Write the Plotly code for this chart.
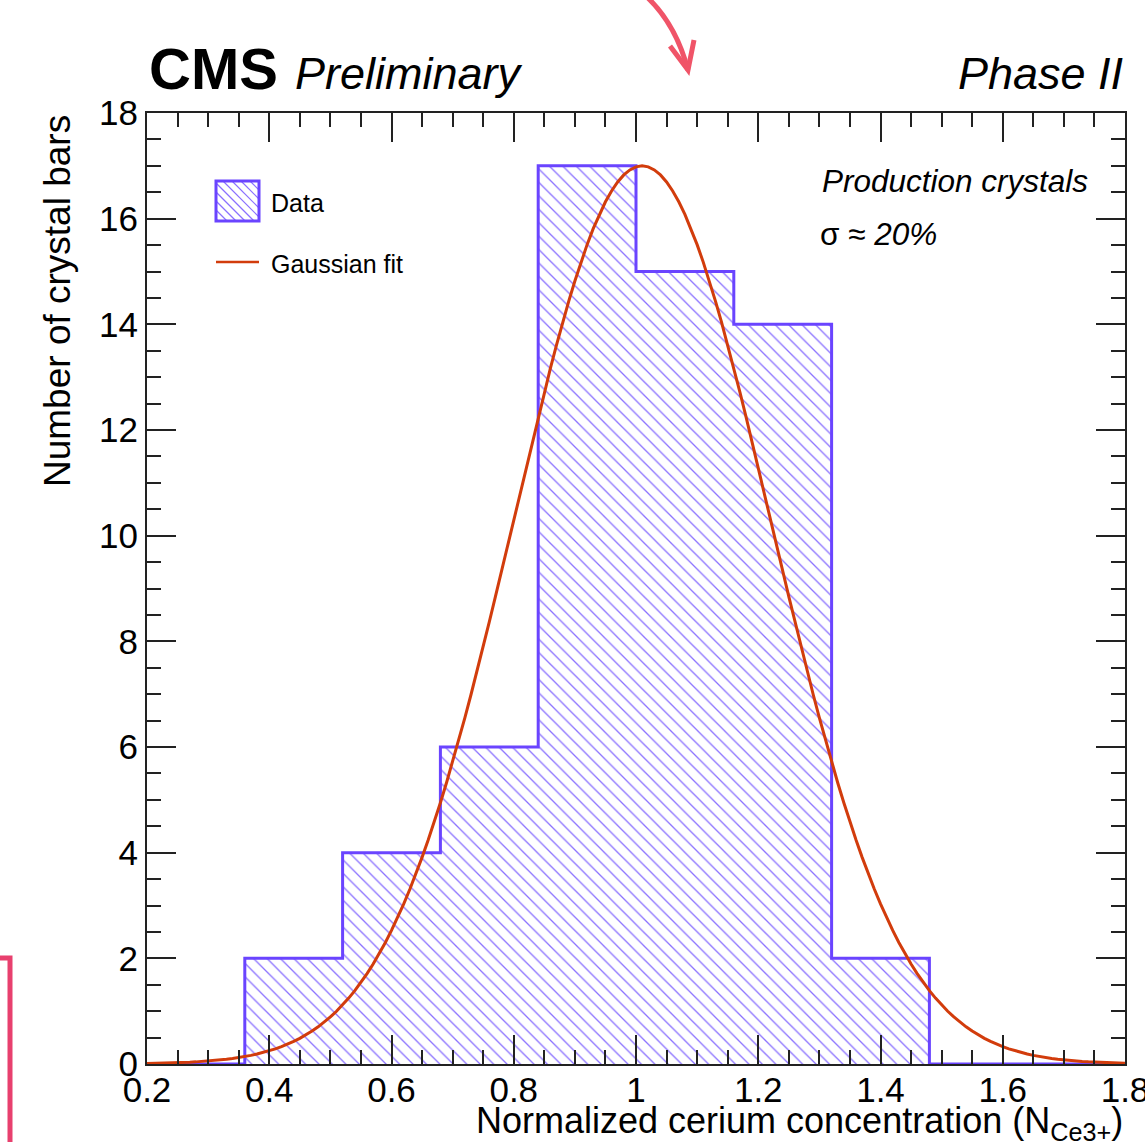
import numpy as np
import plotly.graph_objects as go

# ---------------- data ----------------
bin_edges = [0.20, 0.36, 0.52, 0.68, 0.84, 1.00, 1.16, 1.32, 1.48, 1.64, 1.80]
bin_counts = [0, 2, 4, 6, 17, 15, 14, 2, 0, 0]
fit_amplitude = 17.0
fit_mean = 1.01
fit_sigma = 0.21
fit_range = [0.2, 1.8]

x_range = [0.2, 1.8]
y_range = [0, 18]

# ---------------- layout geometry ----------------
W, H = 1145, 1142
L, R, T, B = 147, 20, 113, 78
PW = W - L - R
PH = H - T - B


def px(xp):
    return (xp - L) / PW


def py(yp):
    return (H - B - yp) / PH


FONT = "Liberation Sans"
HIST_COL = "#6a44ff"
HATCH_COL = "#8a70ff"
FIT_COL = "#d23c0c"

centers = [(a + b) / 2 for a, b in zip(bin_edges[:-1], bin_edges[1:])]
widths = [b - a for a, b in zip(bin_edges[:-1], bin_edges[1:])]

fig = go.Figure()

fig.add_trace(go.Bar(
    x=centers, y=bin_counts, width=widths,
    marker=dict(color="white", line=dict(width=0),
                pattern=dict(shape="\\", fgcolor=HATCH_COL, bgcolor="white",
                             size=9.5, solidity=0.14, fillmode="replace")),
    showlegend=False, hoverinfo="skip"))

fig.add_trace(go.Scatter(
    x=bin_edges, y=bin_counts + [bin_counts[-1]], mode="lines",
    line=dict(shape="hv", color=HIST_COL, width=3),
    showlegend=False, hoverinfo="skip"))

xf = np.linspace(fit_range[0], fit_range[1], 161)
yf = fit_amplitude * np.exp(-0.5 * ((xf - fit_mean) / fit_sigma) ** 2)
fig.add_trace(go.Scatter(x=xf, y=yf, mode="lines",
                         line=dict(color=FIT_COL, width=3),
                         showlegend=False, hoverinfo="skip"))

axis_common = dict(
    showline=True, linewidth=2, linecolor="#222222", mirror="allticks",
    ticks="inside", tickcolor="#222222", tickwidth=1.5,
    showgrid=False, zeroline=False, ticklabeloverflow="allow", automargin=False,
    tickfont=dict(family=FONT, size=35, color="black"),
)

fig.update_xaxes(range=x_range, tick0=0.2, dtick=0.2, ticklen=29,
                 ticklabelstandoff=-6,
                 minor=dict(dtick=0.05, ticklen=14, ticks="inside",
                            tickcolor="#222222", tickwidth=1.5, showgrid=False),
                 **axis_common)
fig.update_yaxes(range=y_range, tick0=0, dtick=2, ticklen=29,
                 minor=dict(dtick=0.5, ticklen=14, ticks="inside",
                            tickcolor="#222222", tickwidth=1.5, showgrid=False),
                 **axis_common)

ann = []
ann.append(dict(text="<b>CMS</b>", x=px(147), y=py(68), xanchor="left", yanchor="middle",
                font=dict(family=FONT, size=58, color="black")))
ann.append(dict(text="<i>Preliminary</i>", x=px(293), y=py(73), xanchor="left", yanchor="middle",
                font=dict(family=FONT, size=45, color="black")))
ann.append(dict(text="<i>Phase II</i>", x=px(1125), y=py(73), xanchor="right", yanchor="middle",
                font=dict(family=FONT, size=45, color="black")))
ann.append(dict(text="Number of crystal bars", x=px(57), y=py(113), xanchor="center", yanchor="top",
                textangle=-90, font=dict(family=FONT, size=37, color="black")))
ann.append(dict(text="Normalized cerium concentration (N<sub>Ce3+</sub>)", x=px(1125), y=py(1123),
                xanchor="right", yanchor="middle", font=dict(family=FONT, size=36, color="black")))
ann.append(dict(text="Data", x=px(269), y=py(203), xanchor="left", yanchor="middle",
                font=dict(family=FONT, size=25, color="black")))
ann.append(dict(text="Gaussian fit", x=px(269), y=py(264), xanchor="left", yanchor="middle",
                font=dict(family=FONT, size=25, color="black")))
ann.append(dict(text="<i>Production crystals</i>", x=px(820), y=py(181), xanchor="left", yanchor="middle",
                font=dict(family=FONT, size=31.5, color="black")))
ann.append(dict(text="σ ≈ <i>20%</i>", x=px(818), y=py(234), xanchor="left", yanchor="middle",
                font=dict(family=FONT, size=31.5, color="black")))
for a in ann:
    a.update(xref="paper", yref="paper", showarrow=False)

shapes = []
# legend box with hatch
bx0, bx1, by0, by1 = 216, 259, 181, 221
step = 9
c = -(bx1 - bx0)
while c < (by1 - by0):
    pts = []
    for xx in (bx0, bx1):
        yy = by0 + (xx - bx0) + c
        if by0 <= yy <= by1:
            pts.append((xx, yy))
    for yy in (by0, by1):
        xx = bx0 + (yy - by0) - c
        if bx0 <= xx <= bx1:
            pts.append((xx, yy))
    pts = sorted(set(pts))
    if len(pts) >= 2:
        (xa, ya), (xb, yb) = pts[0], pts[-1]
        shapes.append(dict(type="line", xref="paper", yref="paper",
                           x0=px(xa), y0=py(ya), x1=px(xb), y1=py(yb),
                           line=dict(color=HATCH_COL, width=1.2)))
    c += step
shapes.append(dict(type="rect", xref="paper", yref="paper",
                   x0=px(bx0), x1=px(bx1), y0=py(by0), y1=py(by1),
                   line=dict(color=HIST_COL, width=3)))
shapes.append(dict(type="line", xref="paper", yref="paper",
                   x0=px(216), x1=px(259), y0=py(262), y1=py(262),
                   line=dict(color=FIT_COL, width=2.5)))

# pink overlay marks from the reference image
PINK = "#f05468"
shapes.append(dict(type="path", xref="paper", yref="paper",
                   path="M {},{} Q {},{} {},{}".format(px(648), py(-2), px(676), py(25), px(688), py(70)),
                   line=dict(color=PINK, width=5)))
shapes.append(dict(type="path", xref="paper", yref="paper",
                   path="M {},{} L {},{} L {},{}".format(px(670), py(46), px(688), py(70), px(694), py(40)),
                   line=dict(color=PINK, width=5)))
PINK2 = "#e8406e"
shapes.append(dict(type="path", xref="paper", yref="paper",
                   path="M {},{} L {},{} L {},{}".format(px(-5), py(958), px(10), py(958), px(10), py(1150)),
                   line=dict(color=PINK2, width=5)))

fig.update_layout(
    width=W, height=H, autosize=False,
    margin=dict(l=L, r=R, t=T, b=B, pad=0, autoexpand=False),
    paper_bgcolor="white", plot_bgcolor="white",
    annotations=ann, shapes=shapes, bargap=0,
    font=dict(family=FONT, color="black"),
)

fig.write_html("out.html")
